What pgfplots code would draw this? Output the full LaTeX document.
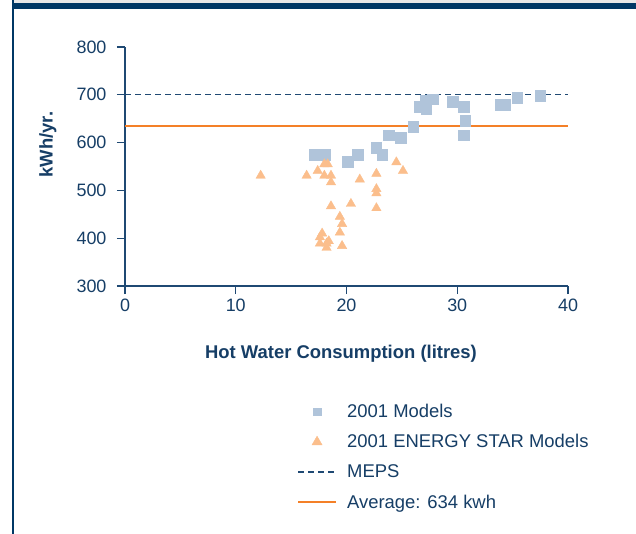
\documentclass[border=0pt]{standalone}
\usepackage{fontspec}
\setmainfont{Liberation Sans}
\usepackage{pgfplots}
\pgfplotsset{compat=1.18}

\definecolor{txtblue}{RGB}{22,62,102}
\definecolor{axblue}{RGB}{31,73,115}
\definecolor{barblue}{RGB}{0,56,101}
\definecolor{sqcol}{RGB}{176,196,218}
\definecolor{tricol}{RGB}{251,190,140}
\definecolor{avgcol}{RGB}{244,128,40}

\begin{document}
\begin{tikzpicture}
  % page frame
  \useasboundingbox (0,0) rectangle (636bp,-534bp);
  \fill[white] (0,0) rectangle (636bp,-534bp);
  \fill[gray!18] (13bp,0) rectangle (636bp,-3bp);
  \fill[barblue] (13bp,-3bp) rectangle (636bp,-8.5bp);
  \fill[barblue] (12bp,0) rectangle (14.2bp,-534bp);

  \begin{axis}[
      at={(125bp,-286bp)}, anchor=south west,
      scale only axis,
      width=443bp, height=239bp,
      xmin=0, xmax=40, ymin=300, ymax=800,
      xtick={0,10,...,40}, ytick={300,400,...,800},
      axis lines=left,
      axis line style={-, axblue, line width=1.3pt},
      tick style={axblue, line width=1.2pt},
      tick align=outside,
      major tick length=8bp,
      /pgf/number format/assume math mode=true,
      tick label style={font=\fontsize{18}{21}\selectfont, text=txtblue},
      yticklabel style={xshift=-7bp},
      xticklabel style={yshift=-1bp},
      xlabel={Hot Water Consumption (litres)},
      ylabel={kWh/yr.},
      label style={font=\fontsize{18.5}{22}\selectfont\bfseries, text=txtblue},
      xlabel style={at={(axis description cs:0.4876,-0.282)}, anchor=center},
      ylabel style={at={(axis description cs:-0.174,0.592)}, anchor=center},
      legend cell align=left,
      legend style={
        at={(axis description cs:0.381,-0.477)}, anchor=north west,
        draw=none, fill=none,
        font=\fontsize{18.5}{22}\selectfont, text=txtblue,
        row sep=11.5bp, column sep=8bp,
      },
      legend image code/.code={
        \draw[mark repeat=2,mark phase=2,#1]
          plot coordinates {(0bp,0bp)(19bp,0bp)(38bp,0bp)};
      },
      clip=false,
    ]
    % 2001 Models
    \addplot[only marks, mark=square*, mark size=5.2bp,
             mark options={draw=sqcol, fill=sqcol}, forget plot] coordinates {
      (17.1,575) (18.1,575) (20.1,560) (21.0,575) (22.7,589) (23.2,575)
      (23.8,616) (24.9,610) (26.0,633) (26.6,675) (27.1,689) (27.2,670)
      (27.8,691) (29.6,686) (30.6,675) (30.7,646) (30.6,616) (33.9,679)
      (34.3,679) (35.4,694) (37.5,698)
    };
    % 2001 ENERGY STAR Models
    \addplot[only marks, mark=triangle*, mark size=5.4bp,
             mark options={draw=tricol, fill=tricol}, forget plot] coordinates {
      (12.25,531) (16.4,531) (17.4,541) (18.0,531) (18.0,555) (18.3,555)
      (18.6,531) (18.6,517) (18.6,467) (19.4,445) (19.6,430) (19.4,412)
      (19.6,384) (17.8,410) (17.6,402) (17.6,389) (18.2,389) (18.4,394)
      (18.2,380) (20.4,472) (21.2,523) (22.7,535) (22.7,503) (22.7,494)
      (22.7,463) (24.5,559) (25.1,541)
    };
    % MEPS
    \addplot[axblue, line width=1.1pt, dash pattern=on 6bp off 4bp, forget plot]
      coordinates {(0,700) (40,700)};
    % Average
    \addplot[avgcol, line width=2.2pt, forget plot]
      coordinates {(0,634) (40,634)};

    \addlegendimage{only marks, mark=square*, mark size=3.8bp, mark options={draw=sqcol, fill=sqcol}}
    \addlegendentry{2001 Models}
    \addlegendimage{only marks, mark=triangle*, mark size=5.8bp, mark options={draw=tricol, fill=tricol}}
    \addlegendentry{2001 ENERGY STAR Models}
    \addlegendimage{axblue, line width=1.1pt, dash pattern=on 6bp off 4bp}
    \addlegendentry{MEPS}
    \addlegendimage{avgcol, line width=2.2pt}
    \addlegendentry{Average: 634 kwh}
  \end{axis}
\end{tikzpicture}
\end{document}
